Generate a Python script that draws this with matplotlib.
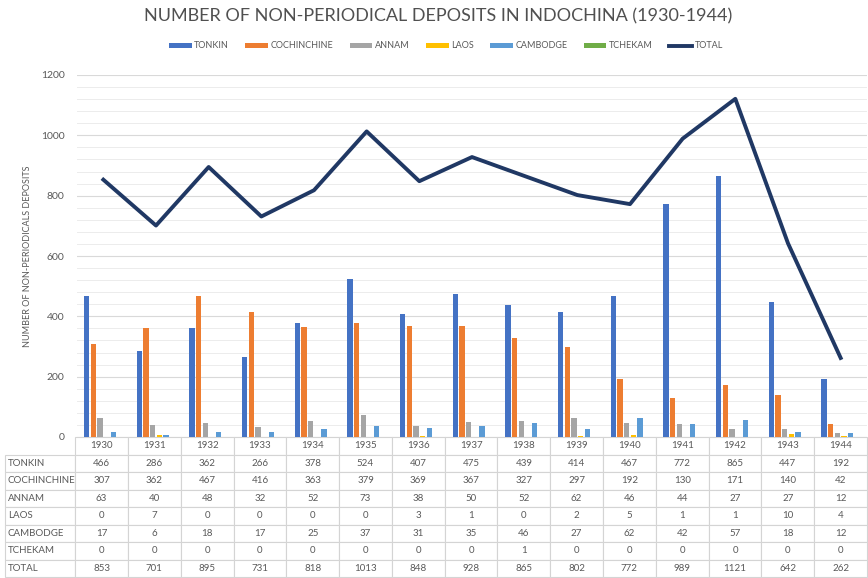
import numpy as np
import matplotlib
matplotlib.use("Agg")
import matplotlib.pyplot as plt

years = [1930, 1931, 1932, 1933, 1934, 1935, 1936, 1937, 1938, 1939, 1940, 1941, 1942, 1943, 1944]
tonkin = [466, 286, 362, 266, 378, 524, 407, 475, 439, 414, 467, 772, 865, 447, 192]
cochinchine = [307, 362, 467, 416, 363, 379, 369, 367, 327, 297, 192, 130, 171, 140, 42]
annam = [63, 40, 48, 32, 52, 73, 38, 50, 52, 62, 46, 44, 27, 27, 12]
laos = [0, 7, 0, 0, 0, 0, 3, 1, 0, 2, 5, 1, 1, 10, 4]
cambodge = [17, 6, 18, 17, 25, 37, 31, 35, 46, 27, 62, 42, 57, 18, 12]
tchekam = [0, 0, 0, 0, 0, 0, 0, 0, 1, 0, 0, 0, 0, 0, 0]
total = [853, 701, 895, 731, 818, 1013, 848, 928, 865, 802, 772, 989, 1121, 642, 262]

series = [
    ("TONKIN", tonkin, "#4472C4"),
    ("COCHINCHINE", cochinchine, "#ED7D31"),
    ("ANNAM", annam, "#A5A5A5"),
    ("LAOS", laos, "#FFC000"),
    ("CAMBODGE", cambodge, "#5B9BD5"),
    ("TCHEKAM", tchekam, "#70AD47"),
]

plt.rcParams["font.family"] = ["Lato", "DejaVu Sans"]
text_col = "#595959"

fig = plt.figure(figsize=(8.68, 5.78), dpi=100)
ax = fig.add_axes([77 / 868, 1 - 437 / 578, 790 / 868, 362 / 578])

x = np.arange(len(years))
pitch = 0.127
for i, (name, vals, col) in enumerate(series):
    ax.bar(x + (i - 2.5) * pitch, vals, width=0.105, color=col, label=name, zorder=2)
ax.plot(x, total, color="#203864", lw=2.8, label="TOTAL", zorder=3)

ax.set_xlim(-0.5, len(years) - 0.5)
ax.set_ylim(0, 1200)
ax.set_yticks(range(0, 1201, 200))
ax.set_yticks(range(0, 1201, 40), minor=True)
ax.grid(True, which="major", axis="y", color="#d9d9d9", lw=0.8, zorder=0)
ax.grid(True, which="minor", axis="y", color="#ececec", lw=0.7, zorder=0)
ax.set_xticks([])
ax.tick_params(axis="y", which="both", length=0, labelsize=7.5, labelcolor=text_col, pad=9)
for s in ax.spines.values():
    s.set_visible(False)
ax.set_ylabel("NUMBER OF NON-PERIODICALS DEPOSITS", fontsize=6.5, color=text_col, labelpad=6)

# data table under the plot
cell_text = [[""] + [str(y) for y in years]]
for name, vals, col in series:
    cell_text.append([name] + [str(v) for v in vals])
cell_text.append(["TOTAL"] + [str(v) for v in total])

col_w = [70] + [52.67] * len(years)
tbl = ax.table(cellText=cell_text, colWidths=col_w, cellLoc="center",
               bbox=[-72 / 790, -140 / 362, 862 / 790, 140 / 362])
tbl.auto_set_font_size(False)
tbl.set_fontsize(7)
for (r, c), cell in tbl.get_celld().items():
    cell.set_edgecolor("#d4d4d4")
    cell.set_linewidth(0.8)
    cell.get_text().set_color(text_col)
    if c == 0:
        cell.get_text().set_ha("left")
        cell._loc = "left"
        cell.PAD = 0.04
    if r == 0 and c == 0:
        cell.visible_edges = ""

fig.text(438 / 868, 1 - 16 / 578, "NUMBER OF NON-PERIODICAL DEPOSITS IN INDOCHINA (1930-1944)",
         ha="center", va="center", fontsize=13, color="#505050")

handles, labels = ax.get_legend_handles_labels()
order = [1, 2, 3, 4, 5, 6, 0]
fig.legend([handles[i] for i in order], [labels[i] for i in order],
           loc="center", bbox_to_anchor=(446 / 868, 1 - 46 / 578), ncol=7, frameon=False,
           fontsize=6.5, labelcolor=text_col, handlelength=2.5, handleheight=0.5,
           handletextpad=0.3, columnspacing=1.8)

fig.savefig("out.png", dpi=100)
